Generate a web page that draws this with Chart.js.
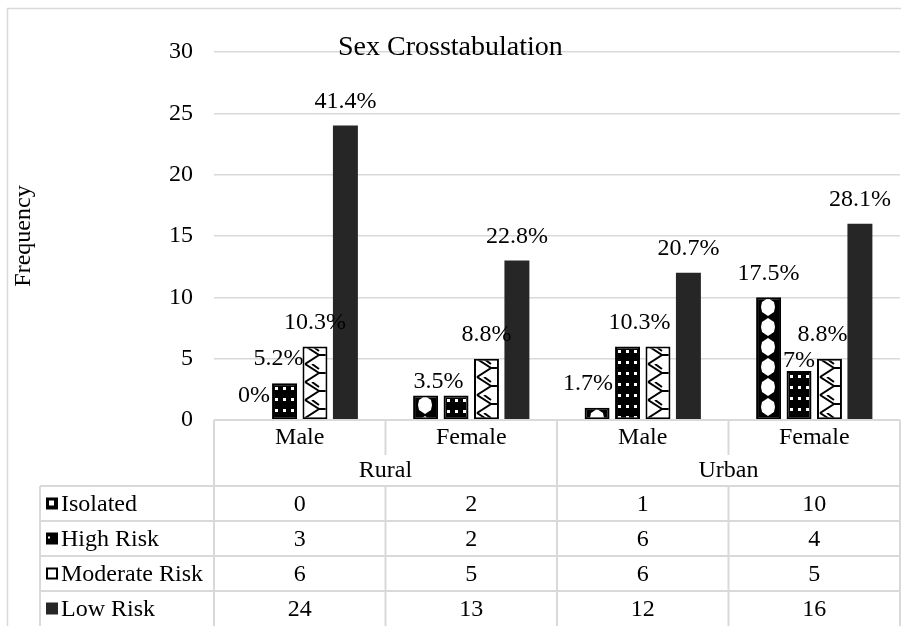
<!DOCTYPE html>
<html>
<head>
<meta charset="UTF-8" />
<title>Sex Crosstabulation</title>
<style>
  body {
    margin: 0;
    padding: 0;
    background-color: #fff;
  }
  .chart-box {
    position: relative;
    width: 901px;
    height: 626px;
  }
</style>
</head>
<body>
<div class="chart-box">
  <canvas id="crossChart"></canvas>
</div>

<script src="https://cdn.jsdelivr.net/npm/chart.js"></script>
<script>
  const sexLabels = ["Male", "Female", "Male", "Female"];
  const areaLabels = ["Rural", "Urban"];
  const seriesNames = ["Isolated", "High Risk", "Moderate Risk", "Low Risk"];

  const isolated = [0, 2, 1, 10];
  const highRisk = [3, 2, 6, 4];
  const moderateRisk = [6, 5, 6, 5];
  const lowRisk = [24, 13, 12, 16];

  const isolatedPct = ["0%", "3.5%", "1.7%", "17.5%"];
  const highRiskPct = ["5.2%", "3.5%", "10.3%", "7%"];
  const moderateRiskPct = ["10.3%", "8.8%", "10.3%", "8.8%"];
  const lowRiskPct = ["41.4%", "22.8%", "20.7%", "28.1%"];

  const yTicks = [0, 5, 10, 15, 20, 25, 30];

  const FONT = '"Liberation Serif", "Times New Roman", serif';
  const GRID = "#d9d9d9";
  const TXT = 24;

  // label nudges (dataset-category), Excel moved a few of them to avoid overlaps
  const labelNudge = {
    "0-1": { dx: 13, dy: 10 },
    "1-1": { hide: true },
    "0-2": { dx: -9 },
    "1-2": { dx: 12 },
    "2-2": { hide: true },
    "1-0": { dx: -6 },
    "1-3": { dy: 14 },
    "2-3": { dx: -7 },
  };

  function makeTile(w, h, draw) {
    const c = document.createElement("canvas");
    c.width = w;
    c.height = h;
    const g = c.getContext("2d");
    draw(g, w, h);
    return c;
  }

  const canvas = document.getElementById("crossChart");
  const ctx0 = canvas.getContext("2d");

  // black with white beads
  const beadPattern = ctx0.createPattern(makeTile(24, 20, (g, w, h) => {
    g.fillStyle = "#000";
    g.fillRect(0, 0, w, h);
    g.fillStyle = "#fff";
    g.beginPath();
    g.moveTo(12, 1);
    g.lineTo(18, 5);
    g.lineTo(19, 10);
    g.lineTo(18, 15);
    g.lineTo(12, 19);
    g.lineTo(6, 15);
    g.lineTo(5, 10);
    g.lineTo(6, 5);
    g.closePath();
    g.fill();
  }), "repeat");

  // black with white dots
  const dotPattern = ctx0.createPattern(makeTile(8, 11, (g, w, h) => {
    g.fillStyle = "#000";
    g.fillRect(0, 0, w, h);
    g.fillStyle = "#fff";
    g.fillRect(3, 4, 3, 3);
  }), "repeat");

  // white with black chevron zigzag
  const zigPattern = ctx0.createPattern(makeTile(24, 18, (g, w, h) => {
    g.fillStyle = "#fff";
    g.fillRect(0, 0, w, h);
    g.strokeStyle = "#000";
    g.lineWidth = 2;
    g.beginPath();
    g.moveTo(3, 0);
    g.lineTo(17, 9);
    g.lineTo(3, 18);
    g.moveTo(10, 0);
    g.lineTo(17, 5);
    g.moveTo(17, 9);
    g.lineTo(24, 9);
    g.stroke();
  }), "repeat");

  const pctLabels = [isolatedPct, highRiskPct, moderateRiskPct, lowRiskPct];

  // keep each bar's pattern anchored to the bar itself
  const patternAnchor = {
    id: "patternAnchor",
    beforeDatasetDraw(chart, args) {
      args.meta.data.forEach((el) => {
        if (el._anchored) return;
        const draw = el.draw;
        el.draw = function (c) {
          const bg = this.options.backgroundColor;
          if (bg instanceof CanvasPattern) {
            bg.setTransform(new DOMMatrix([1, 0, 0, 1, Math.round(this.x - this.width / 2), Math.round(this.y)]));
          }
          draw.call(this, c);
        };
        el._anchored = true;
      });
    },
  };

  const barLabels = {
    id: "barLabels",
    afterDatasetsDraw(chart) {
      const c = chart.ctx;
      c.save();
      c.font = TXT + "px " + FONT;
      c.fillStyle = "#000";
      c.textAlign = "center";
      c.textBaseline = "middle";
      chart.data.datasets.forEach((ds, d) => {
        chart.getDatasetMeta(d).data.forEach((bar, i) => {
          const n = labelNudge[d + "-" + i] || {};
          if (n.hide) return;
          c.fillText(pctLabels[d][i], bar.x + (n.dx || 0), bar.y - 24 + (n.dy || 0));
        });
      });
      c.restore();
    },
  };

  const frame = {
    id: "frame",
    afterDraw(chart) {
      const c = chart.ctx;
      const a = chart.chartArea;
      const x = chart.scales.x;
      const half = (x.getPixelForValue(1) - x.getPixelForValue(0)) / 2;
      const bottom = chart.height;
      const row1 = a.bottom + 35;
      const row2 = a.bottom + 66;
      const rowH = 35;
      const keyLeft = 40;

      c.save();
      // outer border
      c.strokeStyle = GRID;
      c.lineWidth = 1.5;
      c.strokeRect(7.5, 8.5, chart.width, chart.height);

      // title
      c.fillStyle = "#000";
      c.font = "28px " + FONT;
      c.textAlign = "left";
      c.textBaseline = "alphabetic";
      c.fillText("Sex Crosstabulation", 338, 55);

      // axis title
      c.save();
      c.translate(24, 236);
      c.rotate(-Math.PI / 2);
      c.font = TXT + "px " + FONT;
      c.textAlign = "center";
      c.textBaseline = "middle";
      c.fillText("Frequency", 0, 0);
      c.restore();

      // table lines
      c.strokeStyle = GRID;
      c.lineWidth = 2;
      c.beginPath();
      c.moveTo(a.left, a.bottom);
      c.lineTo(a.right, a.bottom);
      for (let r = 0; r < 4; r++) {
        c.moveTo(keyLeft, row2 + r * rowH);
        c.lineTo(a.right, row2 + r * rowH);
      }
      c.moveTo(a.left, a.bottom);
      c.lineTo(a.left, bottom);
      c.moveTo(keyLeft, row2);
      c.lineTo(keyLeft, bottom);
      for (let i = 1; i <= sexLabels.length; i++) {
        const bx = x.getPixelForValue(i - 1) + half;
        if (i % 2 === 0) {
          c.moveTo(bx, a.bottom);
          c.lineTo(bx, bottom);
        } else {
          c.moveTo(bx, a.bottom);
          c.lineTo(bx, row1);
          c.moveTo(bx, row2);
          c.lineTo(bx, bottom);
        }
      }
      c.stroke();

      // header text
      c.fillStyle = "#000";
      c.font = TXT + "px " + FONT;
      c.textAlign = "center";
      c.textBaseline = "middle";
      sexLabels.forEach((s, i) => {
        c.fillText(s, x.getPixelForValue(i), a.bottom + 18);
      });
      areaLabels.forEach((s, g) => {
        const cx = (x.getPixelForValue(g * 2) + x.getPixelForValue(g * 2 + 1)) / 2;
        c.fillText(s, cx, row1 + 16);
      });

      // series rows
      const rows = [isolated, highRisk, moderateRisk, lowRisk];
      const keyFills = ["#000", "#000", "#fff", "#262626"];
      rows.forEach((vals, r) => {
        const cy = row2 + r * rowH + rowH / 2;
        c.fillStyle = "#000";
        vals.forEach((v, i) => {
          c.textAlign = "center";
          c.fillText(String(v), x.getPixelForValue(i), cy + 1);
        });
        // legend key
        c.fillStyle = keyFills[r];
        c.fillRect(46, cy - 6, 12, 12);
        if (r === 0) {
          c.fillStyle = "#fff";
          c.fillRect(49, cy - 3, 5, 5);
        }
        if (r === 1) {
          c.fillStyle = "#fff";
          c.fillRect(48, cy - 2, 2, 2);
        }
        if (r === 2) {
          c.strokeStyle = "#000";
          c.lineWidth = 2;
          c.strokeRect(47, cy - 5, 10, 10);
        }
        c.fillStyle = "#000";
        c.textAlign = "left";
        c.fillText(seriesNames[r], 61, cy + 1);
      });
      c.restore();
    },
  };

  const seriesData = [isolated, highRisk, moderateRisk, lowRisk];
  const seriesFill = [beadPattern, dotPattern, zigPattern, "#262626"];

  const chart = new Chart(canvas, {
    type: "bar",
    data: {
      labels: sexLabels,
      datasets: seriesData.map((vals, d) => ({
        label: seriesNames[d],
        data: vals,
        backgroundColor: seriesFill[d],
        borderColor: "#000",
        borderWidth: d === 3 ? 0 : 2,
        borderSkipped: false,
        categoryPercentage: 0.71,
        barPercentage: 0.82,
      })),
    },
    options: {
      responsive: true,
      maintainAspectRatio: false,
      animation: false,
      layout: {
        padding: { top: 52, right: 1, bottom: 206, left: 0 },
      },
      plugins: {
        legend: { display: false },
        tooltip: { enabled: false },
        title: { display: false },
      },
      scales: {
        x: {
          display: false,
        },
        y: {
          min: yTicks[0],
          max: yTicks[yTicks.length - 1],
          afterFit(scale) {
            scale.width = 214;
          },
          ticks: {
            stepSize: yTicks[1] - yTicks[0],
            padding: 21,
            color: "#000",
            font: { family: FONT, size: TXT },
          },
          grid: {
            color: GRID,
            lineWidth: 1.5,
            drawTicks: false,
          },
          border: { display: false },
        },
      },
    },
    plugins: [patternAnchor, barLabels, frame],
  });
</script>
</body>
</html>
